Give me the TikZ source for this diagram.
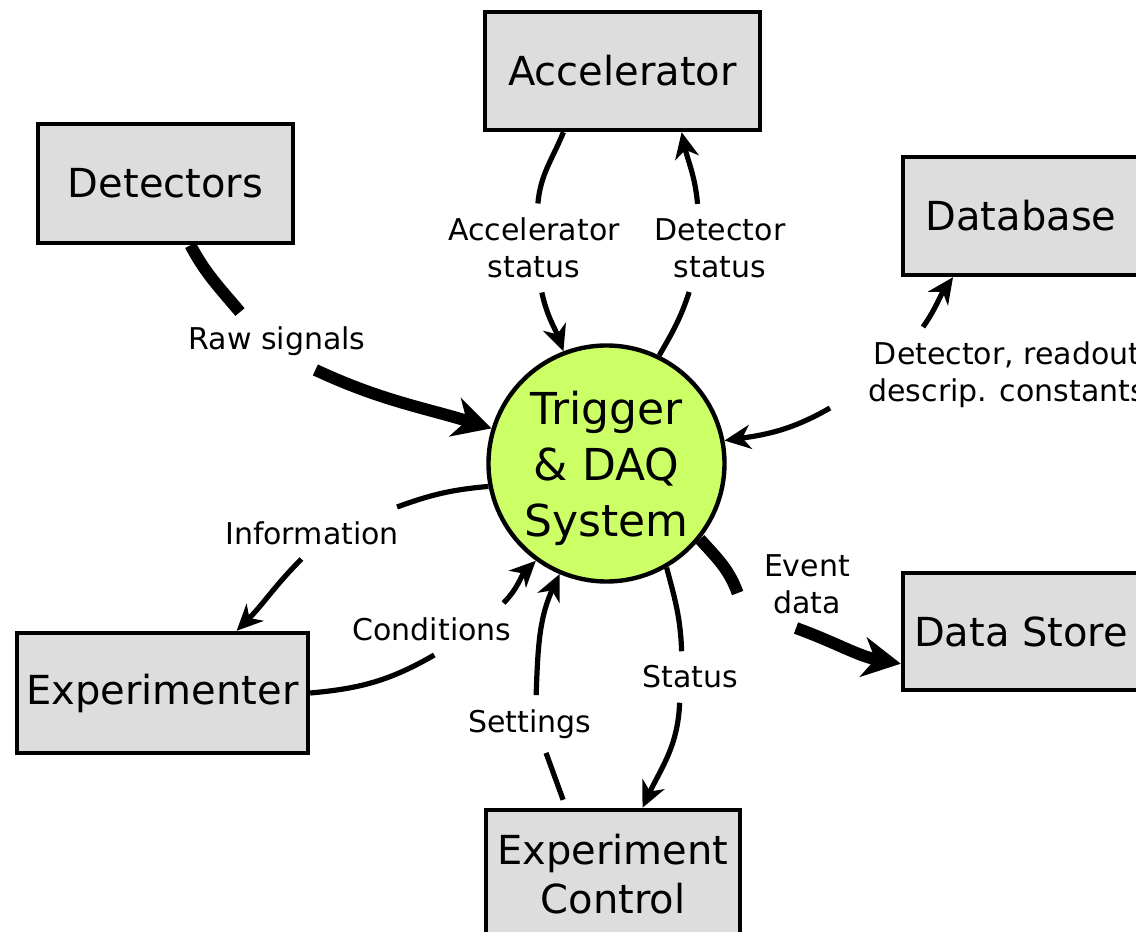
\documentclass[tikz,border=0pt]{standalone}
\usepackage{fontspec}
\setmainfont{DejaVu Sans}
\usetikzlibrary{arrows.meta}
\definecolor{boxgray}{HTML}{DDDDDD}
\definecolor{daqgreen}{HTML}{CCFF66}

\begin{document}
\begin{tikzpicture}[x=0.5pt,y=0.5pt,
    unit/.style={draw,fill=boxgray,line width=2.2pt,inner sep=0pt,align=center,
      font=\fontsize{20}{24.5}\selectfont},
    flowlbl/.style={align=center,inner xsep=4pt,inner ysep=7pt,
      font=\fontsize{15}{18.5}\selectfont},
    flow/.style={line width=2.6pt,-{Stealth[length=13pt,width=12pt,inset=4pt]}},
    bigflow/.style={line width=6pt,-{Stealth[length=19pt,width=20pt,inset=6pt]}}]
  \useasboundingbox (0,0) rectangle (1136,932);

  % the system in the middle
  \node[circle,draw,fill=daqgreen,line width=2.2pt,minimum size=118pt,inner sep=0pt,
    align=center,font=\fontsize{22}{28}\selectfont] (trig) at (606.5,468.5)
    {\rule{0pt}{22pt}Trigger\\\& DAQ\\System};

  % the boxes round it
  \node[unit,minimum width=137.5pt,minimum height=59pt] (acc) at (622.5,861) {Accelerator};
  \node[unit,minimum width=127.5pt,minimum height=59.5pt] (det) at (165.5,748.5) {Detectors};
  \node[unit,minimum width=118pt,minimum height=59pt] (db) at (1021,716) {Database};
  \node[unit,minimum width=118pt,minimum height=58.5pt] (ds) at (1021,300.5) {Data Store};
  \node[unit,minimum width=145.5pt,minimum height=60pt] (expr) at (162.5,239) {Experimenter};
  \node[unit,minimum width=127pt,minimum height=64pt] (ctrl) at (613,58) {Experiment\\Control};

  % labels of the flows
  \node[flowlbl] (rawl) at (277,591) {Raw signals};
  \node[flowlbl] (accl) at (534,684) {Accelerator\\status};
  \node[flowlbl] (detl) at (720,684) {Detector\\status};
  \node[flowlbl,anchor=west] (dbl) at (860,557) {Detector, readout\\descrip. constants};
  \node[flowlbl] (infl) at (312,399) {Information};
  \node[flowlbl] (condl) at (432,303) {Conditions};
  \node[flowlbl] (setl) at (530,208) {Settings};
  \node[flowlbl] (statl) at (690,255) {Status};
  \node[flowlbl] (evl) at (807,348) {Event\\data};

  % flows
  \draw[bigflow] (det.-68) to[out=-62,in=130] (rawl.142)
    (rawl.-37) to[out=-25,in=163] (trig.163);
  \draw[flow] (acc.-134) to[out=-112,in=85] (accl.85)
    (accl.-80) to[out=-78,in=110] (trig.111);
  \draw[flow] (trig.64) to[out=60,in=-108] (detl.-125)
    (detl.117) to[out=95,in=-78] (acc.-46);
  \draw[flow] ([xshift=-15pt,yshift=-16.5pt]dbl.west) to[out=210,in=8] (trig.11);
  \draw[flow] ([xshift=31.5pt,yshift=24pt]dbl.west) to[out=55,in=235] (db.-138);
  \draw[flow] (trig.191) to[out=185,in=20] (infl.17)
    (infl.-112) to[out=225,in=45] (expr.40);
  \draw[flow] (expr.east) to[out=5,in=210] (condl.-85)
    (condl.20) to[out=45,in=225] (trig.234);
  \draw[flow] ([yshift=4pt]ctrl.127) to[out=110,in=-70] (setl.-61)
    (setl.78) to[out=88,in=245] (trig.247);
  \draw[flow] (trig.300) to[out=-75,in=92] (statl.108)
    (statl.-112) to[out=-92,in=65] (ctrl.66);
  \draw[bigflow] (trig.321) to[out=-48,in=110] ([xshift=-9pt]evl.190)
    (evl.-104) to[out=-20,in=170] (ds.195);
\end{tikzpicture}
\end{document}
